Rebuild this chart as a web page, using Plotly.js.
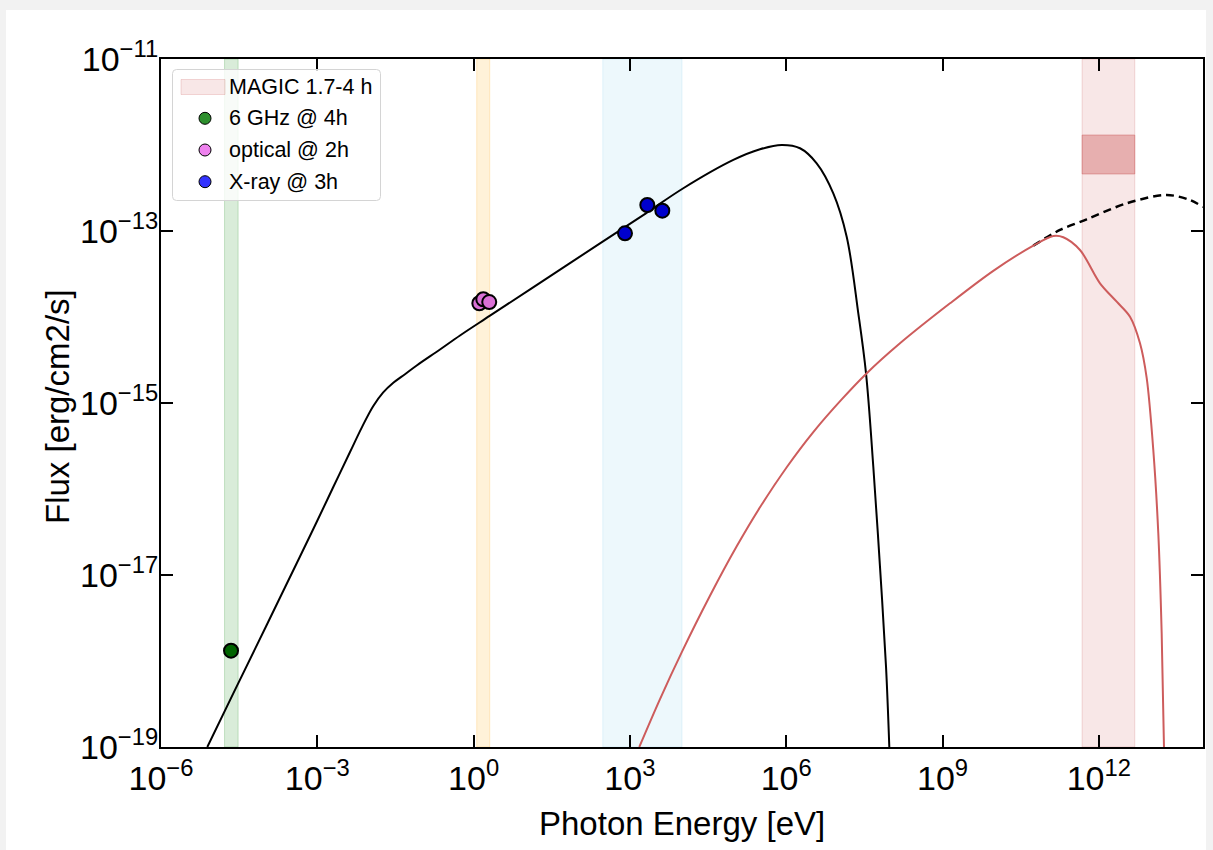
<!DOCTYPE html>
<html>
<head>
<meta charset="utf-8">
<script src="https://cdn.plot.ly/plotly-3.0.1.min.js"></script>
<style>
  html, body { margin: 0; padding: 0; background: #f2f2f2; width: 1213px; height: 850px; overflow: hidden; }
  #plot { position: absolute; left: 6px; top: 10px; width: 1200px; height: 840px; background: #fff; }
</style>
</head>
<body>
<div id="plot"></div>
<script>
// ---- data (log10 values) ----
const syncLogE = [-5.111,-4.612,-3.971,-3.332,-3.012,-2.693,-2.372,-2.142,-1.925,-1.739,-1.541,-1.317,-1.092,-0.645,-0.261,0.315,1.274,2.426,3.300,4.025,4.985,5.497,5.914,6.265,6.585,6.904,7.161,7.384,7.532,7.672,7.800,7.916,7.979];
const syncLogF = [-19.0,-18.376,-17.581,-16.785,-16.384,-15.977,-15.570,-15.280,-15.035,-14.880,-14.765,-14.665,-14.564,-14.378,-14.215,-13.985,-13.603,-13.144,-12.797,-12.503,-12.174,-12.050,-12.0,-12.038,-12.213,-12.562,-13.066,-13.957,-14.655,-15.741,-16.903,-18.066,-19.0];

const sscLogE = [3.180,3.578,3.994,4.537,5.050,5.497,6.010,6.520,7.065,7.532,8.184,9.144,9.975,10.743,11.127,11.319,11.639,12.023,12.344,12.599,12.791,12.919,13.046,13.142,13.207,13.251];
const sscLogF = [-19.0,-18.443,-17.900,-17.242,-16.667,-16.213,-15.747,-15.338,-14.958,-14.662,-14.306,-13.841,-13.463,-13.170,-13.058,-13.073,-13.221,-13.608,-13.822,-13.997,-14.306,-14.709,-15.547,-16.515,-17.678,-19.0];

const intrLogE = [10.743,11.255,11.768,12.535,13.303,13.750,14.0];
const intrLogF = [-13.170,-12.988,-12.864,-12.678,-12.581,-12.640,-12.721];

const radioLogE = [-4.656];
const radioLogF = [-17.880];
const optLogE = [0.11,0.186,0.30];
const optLogF = [-13.84,-13.794,-13.826];
const xrayLogE = [2.906,3.334,3.622];
const xrayLogF = [-13.027,-12.698,-12.764];

const radioBand = [-4.78,-4.52];
const optBand = [0.06,0.31];
const xrayBand = [2.48,4.0];
const magicBand = [11.68,12.69];
const magicFluxBox = [-12.337,-11.884];

const xTickExp = [-6,-3,0,3,6,9,12];
const yTickExp = [-19,-17,-15,-13,-11];
const legendNames = ['MAGIC 1.7-4 h','6 GHz @ 4h','optical @ 2h','X-ray @ 3h'];
const legendColors = ['rgba(205,92,92,0.15)','#2d8f2d','#ee82ee','#3333ff'];

// ---- build ----
const P = v => Math.pow(10, v);
const Y0 = 1e-19, Y1 = 1e-11;
const font = 'Liberation Sans, Arial, Helvetica, sans-serif';
const supText = e => '10<sup>' + (e < 0 ? '\u2212' + (-e) : e) + '</sup>';

function band(b, fill, line) {
  return {x:[P(b[0]),P(b[1]),P(b[1]),P(b[0]),P(b[0])], y:[Y0,Y0,Y1,Y1,Y0],
    type:'scatter', mode:'lines', fill:'toself', fillcolor:fill,
    line:{color:line,width:1}, hoverinfo:'skip', showlegend:false};
}
const traces = [
  band(magicBand,'rgba(205,92,92,0.15)','rgba(205,92,92,0.22)'),
  band(radioBand,'rgba(0,128,0,0.15)','rgba(0,128,0,0.2)'),
  band(optBand,'rgba(255,165,0,0.15)','rgba(255,165,0,0.2)'),
  band(xrayBand,'rgba(135,206,235,0.15)','rgba(135,206,235,0.2)'),
  {x:[P(magicBand[0]),P(magicBand[1]),P(magicBand[1]),P(magicBand[0]),P(magicBand[0])],
   y:[P(magicFluxBox[0]),P(magicFluxBox[0]),P(magicFluxBox[1]),P(magicFluxBox[1]),P(magicFluxBox[0])],
   type:'scatter',mode:'lines',fill:'toself',fillcolor:'rgba(205,92,92,0.4)',line:{color:'rgba(205,92,92,0.45)',width:1},showlegend:false,hoverinfo:'skip'},
  {x:syncLogE.map(P), y:syncLogF.map(P), type:'scatter', mode:'lines', line:{color:'#000',width:2,shape:'spline',smoothing:1.0}, showlegend:false},
  {x:intrLogE.map(P), y:intrLogF.map(P), type:'scatter', mode:'lines', line:{color:'#000',width:2.5,dash:'8px,5px',shape:'spline',smoothing:0.9}, showlegend:false},
  {x:sscLogE.map(P), y:sscLogF.map(P), type:'scatter', mode:'lines', line:{color:'#cd5c5c',width:2,shape:'spline',smoothing:0.9}, showlegend:false},
  {x:radioLogE.map(P), y:radioLogF.map(P), type:'scatter', mode:'markers', name:legendNames[1], marker:{size:14,color:'#006400',line:{color:'#000',width:2}}, showlegend:false},
  {x:optLogE.map(P), y:optLogF.map(P), type:'scatter', mode:'markers', name:legendNames[2], marker:{size:14,color:'#da70d6',line:{color:'#000',width:2}}, showlegend:false},
  {x:xrayLogE.map(P), y:xrayLogF.map(P), type:'scatter', mode:'markers', name:legendNames[3], marker:{size:14,color:'#0000cd',line:{color:'#000',width:2}}, showlegend:false}
];

// plot-area geometry (page pixels) for placing the hand-drawn legend and titles
const PL = 161, PR = 1203, PT = 59, PB = 747;
const fx = px => (px - PL) / (PR - PL);
const fy = py => (PB - py) / (PB - PT);

function roundRect(x0, y0, x1, y1, r) {
  const rx = r / (PR - PL), ry = r / (PB - PT);
  const a = fx(x0), b = fx(x1), t = fy(y0), d = fy(y1);
  return `M${a+rx},${t} L${b-rx},${t} Q${b},${t} ${b},${t-ry} L${b},${d+ry} Q${b},${d} ${b-rx},${d} L${a+rx},${d} Q${a},${d} ${a},${d+ry} L${a},${t-ry} Q${a},${t} ${a+rx},${t} Z`;
}
const rowsY = [86.7, 118.3, 150, 181.7];
const shapes = [
  {type:'path', xref:'paper', yref:'paper', path:roundRect(172.5,69.5,380.5,200.5,4), fillcolor:'rgba(255,255,255,0.8)', line:{color:'#d4d4d4',width:1}, layer:'above'},
  {type:'rect', xref:'paper', yref:'paper', x0:fx(181), x1:fx(225), y0:fy(94.5), y1:fy(79.5), fillcolor:legendColors[0], line:{color:'rgba(205,92,92,0.22)',width:1}, layer:'above'}
];
for (let i = 1; i < 4; i++) {
  const cx = 205, cy = rowsY[i], r = 6;
  shapes.push({type:'circle', xref:'paper', yref:'paper', x0:fx(cx-r), x1:fx(cx+r), y0:fy(cy+r), y1:fy(cy-r), fillcolor:legendColors[i], line:{color:'#000',width:1}, layer:'above'});
}
const annotations = legendNames.map((t, i) => ({
  text:t, xref:'paper', yref:'paper', x:fx(227), y:fy(rowsY[i]), xanchor:'left', yanchor:'middle',
  showarrow:false, font:{family:font,size:21.5,color:'#000'}
}));
annotations.push({text:'Photon Energy [eV]', xref:'paper', yref:'paper', x:fx(681.5), y:fy(823), xanchor:'center', yanchor:'middle', showarrow:false, font:{family:font,size:33,color:'#000'}});
annotations.push({text:'Flux [erg/cm2/s]', xref:'paper', yref:'paper', x:fx(57), y:fy(407), xanchor:'center', yanchor:'middle', textangle:-90, showarrow:false, font:{family:font,size:33,color:'#000'}});

const axisCommon = {
  type:'log', showgrid:false, zeroline:false, showline:true, linecolor:'#000', linewidth:2,
  mirror:'allticks', ticks:'inside', ticklen:12, tickwidth:2, tickcolor:'#000',
  tickmode:'array', tickfont:{family:font,size:34,color:'#000'}
};
const layout = {
  width:1200, height:840,
  margin:{l:155,r:3,t:49,b:103},
  paper_bgcolor:'#fff', plot_bgcolor:'#fff',
  font:{family:font,color:'#000'},
  xaxis:Object.assign({}, axisCommon, {range:[-6,14], tickvals:xTickExp.map(P), ticktext:xTickExp.map(supText)}),
  yaxis:Object.assign({}, axisCommon, {range:[-19,-11], tickvals:yTickExp.map(P), ticktext:yTickExp.map(supText), ticklabelstandoff:-6}),
  shapes:shapes, annotations:annotations,
  showlegend:false, hovermode:false
};
Plotly.newPlot('plot', traces, layout, {staticPlot:true, displayModeBar:false});
</script>
</body>
</html>
